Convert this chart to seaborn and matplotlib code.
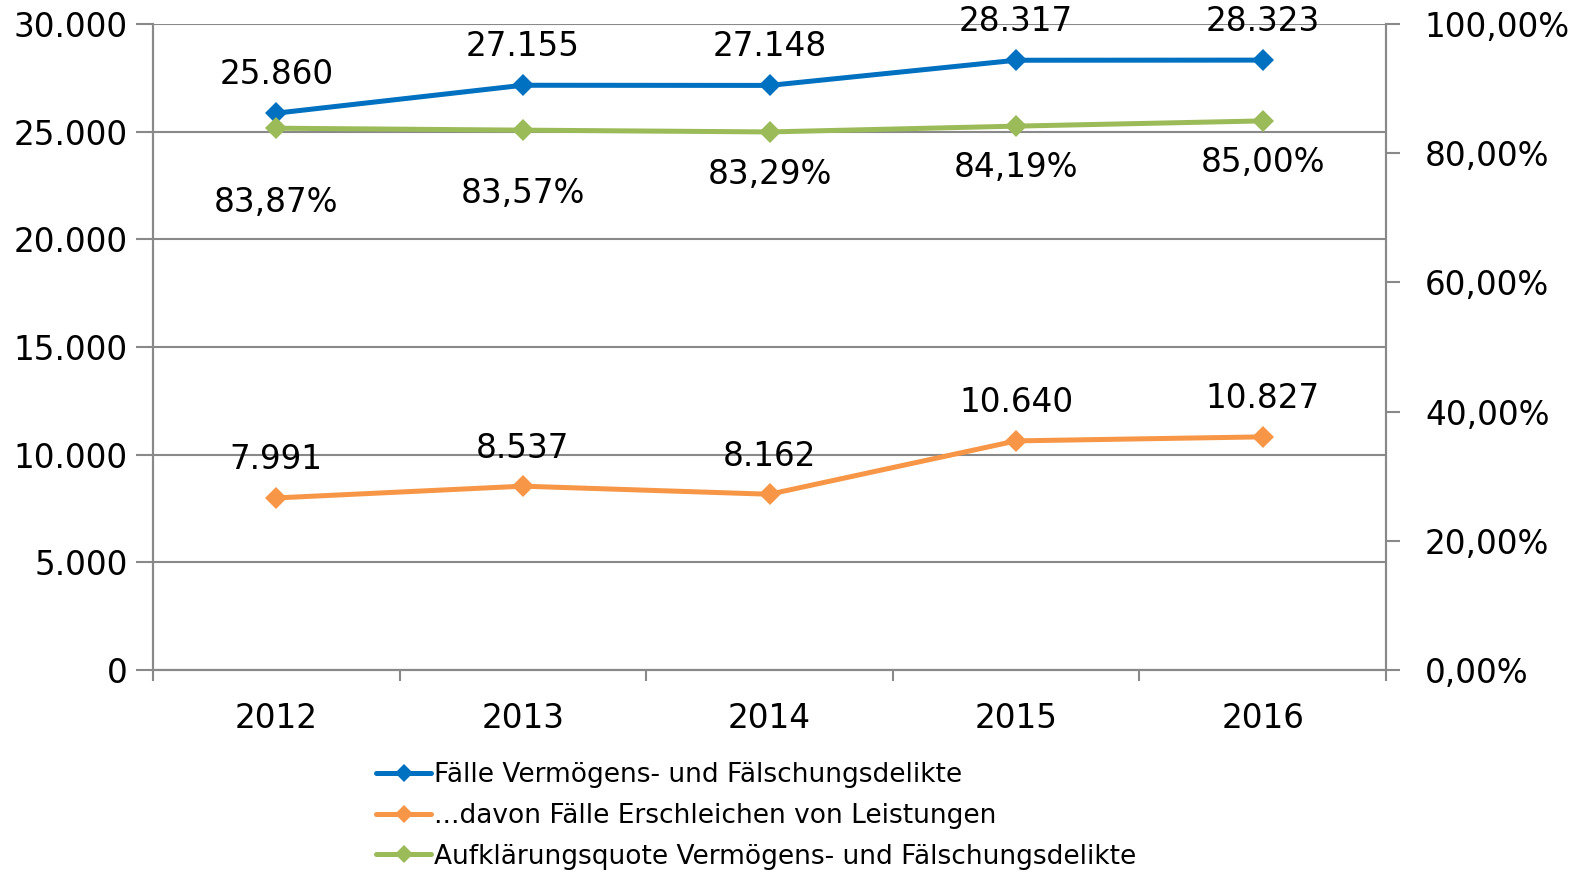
import pandas as pd
import matplotlib.pyplot as plt
import matplotlib.ticker as mticker
from matplotlib.lines import Line2D
import seaborn as sns

years = ["2012", "2013", "2014", "2015", "2016"]
faelle = [25860, 27155, 27148, 28317, 28323]
erschleichen = [7991, 8537, 8162, 10640, 10827]
quote = [83.87, 83.57, 83.29, 84.19, 85.00]

labels = ["Fälle Vermögens- und Fälschungsdelikte",
          "...davon Fälle Erschleichen von Leistungen",
          "Aufklärungsquote Vermögens- und Fälschungsdelikte"]
colors = ["#0070C0", "#F79646", "#9BBB59"]
# pixel offsets of the green labels below their points (as in the original)
quote_label_off = [74, 63, 43, 41, 42]

df = pd.DataFrame({"Jahr": years, "faelle": faelle, "ersch": erschleichen, "quote": quote})

sns.set_theme(style="white")
plt.rcParams['font.family'] = ['DejaVu Sans']
plt.rcParams['text.color'] = 'black'
plt.rcParams['xtick.color'] = 'black'
plt.rcParams['ytick.color'] = 'black'

fig = plt.figure(figsize=(15.77, 8.76), dpi=100)
ax = fig.add_axes([153 / 1577, 1 - 670 / 876, (1386 - 153) / 1577, (670 - 24) / 876])
ax2 = ax.twinx()

grid_c = "#898989"
fs = 23.5

line_kw = dict(marker="D", markersize=11, linewidth=3.6, markeredgewidth=0)
sns.lineplot(data=df, x="Jahr", y="faelle", ax=ax, color=colors[0], **line_kw)
sns.lineplot(data=df, x="Jahr", y="ersch", ax=ax, color=colors[1], **line_kw)
sns.lineplot(data=df, x="Jahr", y="quote", ax=ax2, color=colors[2], **line_kw)

ax.set_xlim(-0.5, 4.5)
ax.set_ylim(0, 30000)
ax2.set_ylim(0, 100)
ax.set_yticks(range(0, 30001, 5000))
ax2.set_yticks(range(0, 101, 20))

de_int = mticker.FuncFormatter(lambda v, p: f"{int(v):,}".replace(",", "."))
de_pct = mticker.FuncFormatter(lambda v, p: f"{v:.2f}".replace(".", ",") + "%")
ax.yaxis.set_major_formatter(de_int)
ax2.yaxis.set_major_formatter(de_pct)

ax.set_xticks(range(len(years)))
ax.set_xticklabels(years)
ax.set_xticks([i - 0.5 for i in range(len(years) + 1)], minor=True)
ax.tick_params(axis="x", which="major", bottom=True, length=0, labelsize=fs, pad=23)
ax.tick_params(axis="x", which="minor", bottom=True, length=8, width=1.5,
               color=grid_c, direction="out")
ax.tick_params(axis="y", left=True, length=12, width=1.5, color=grid_c,
               labelcolor="black", labelsize=fs, pad=6, direction="out")
ax2.tick_params(axis="y", right=True, length=10, width=1.5, color=grid_c,
                labelcolor="black", labelsize=fs, pad=18, direction="out")

ax.grid(axis="y", color=grid_c, linewidth=1.5)
ax.set_axisbelow(True)
for a in (ax, ax2):
    a.set_xlabel("")
    a.set_ylabel("")
    a.spines["top"].set_visible(False)
    for s in ("left", "right", "bottom"):
        a.spines[s].set_color(grid_c)
        a.spines[s].set_linewidth(1.5)

fmt_int = lambda v: f"{v:,}".replace(",", ".")
for i, v in enumerate(faelle):
    ax.annotate(fmt_int(v), (i, v), xytext=(0, 39), textcoords="offset pixels",
                ha="center", va="center", fontsize=fs)
for i, v in enumerate(erschleichen):
    ax.annotate(fmt_int(v), (i, v), xytext=(0, 38), textcoords="offset pixels",
                ha="center", va="center", fontsize=fs)
for i, v in enumerate(quote):
    ax2.annotate(f"{v:.2f}".replace(".", ",") + "%", (i, v), xytext=(0, -quote_label_off[i]),
                 textcoords="offset pixels", ha="center", va="center", fontsize=fs)

handles = [Line2D([], [], color=c, marker="D", markersize=9, linewidth=3.6, markeredgewidth=0)
           for c in colors]
fig.legend(handles, labels, loc="upper left", bbox_to_anchor=(376 / 1577, 1 - 762 / 876),
           frameon=False, fontsize=19, handlelength=2.1, handletextpad=0.08,
           labelspacing=0.56, borderaxespad=0, borderpad=0)

fig.savefig("out.png", dpi=100)
